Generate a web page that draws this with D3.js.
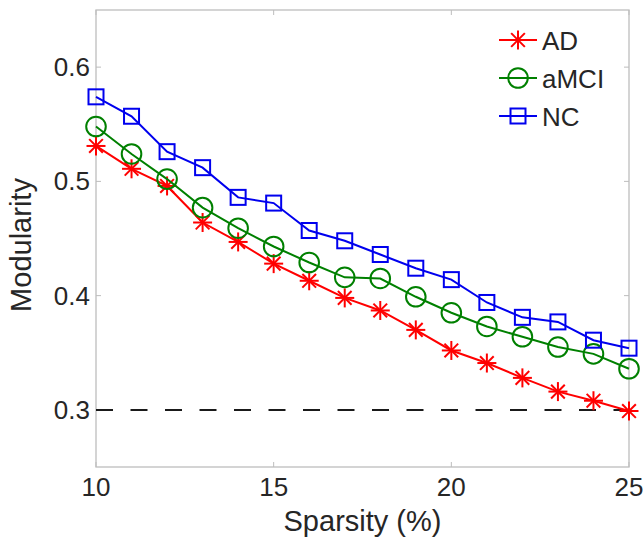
<!DOCTYPE html>
<html><head><meta charset="utf-8">
<script src="https://cdn.jsdelivr.net/npm/d3@7/dist/d3.min.js"></script>
<style>
body{margin:0;background:#fff}
svg{display:block}
text{font-family:"Liberation Sans",Arial,Helvetica,sans-serif;fill:#262626}
</style></head><body>
<script>
const sparsity=[10,11,12,13,14,15,16,17,18,19,20,21,22,23,24,25];
const adValues=[0.531,0.511,0.496,0.464,0.447,0.428,0.413,0.398,0.387,0.370,0.352,0.341,0.328,0.316,0.308,0.299];
const amciValues=[0.548,0.524,0.502,0.477,0.459,0.443,0.429,0.416,0.415,0.399,0.385,0.373,0.364,0.355,0.349,0.336];
const ncValues=[0.574,0.557,0.526,0.512,0.486,0.481,0.457,0.448,0.436,0.424,0.414,0.394,0.381,0.377,0.361,0.354];
const seriesNames=["AD","aMCI","NC"];
const xTicks=[10,15,20,25];
const yTicks=[0.3,0.4,0.5,0.6];
const refValue=0.3;
const xLabel="Sparsity (%)";
const yLabel="Modularity";

const W=644,H=538;
const L=96,R=629,T=10,B=467;
const svg=d3.select("body").append("svg").attr("width",W).attr("height",H);
const x=d3.scaleLinear().domain([10,25]).range([L,R]);
const y=d3.scaleLinear().domain([0.25,0.65]).range([B,T]);

const series=[
 {name:seriesNames[0],values:adValues,color:"#ff0000",marker:"star"},
 {name:seriesNames[1],values:amciValues,color:"#008000",marker:"circle"},
 {name:seriesNames[2],values:ncValues,color:"#0000ee",marker:"square"}
];

// axes box
const axisColor="#bdbdbd";
svg.append("rect").attr("x",L).attr("y",T).attr("width",R-L).attr("height",B-T)
 .attr("fill","none").attr("stroke",axisColor).attr("stroke-width",1.3);

// inward ticks
const tl=5;
xTicks.forEach(t=>{
 svg.append("line").attr("x1",x(t)).attr("x2",x(t)).attr("y1",B).attr("y2",B-tl).attr("stroke",axisColor).attr("stroke-width",1);
 svg.append("line").attr("x1",x(t)).attr("x2",x(t)).attr("y1",T).attr("y2",T+tl).attr("stroke",axisColor).attr("stroke-width",1);
 svg.append("text").attr("x",x(t)).attr("y",496).attr("text-anchor","middle").attr("font-size",26).text(d3.format("d")(t));
});
yTicks.forEach(t=>{
 svg.append("line").attr("x1",L).attr("x2",L+tl).attr("y1",y(t)).attr("y2",y(t)).attr("stroke",axisColor).attr("stroke-width",1);
 svg.append("line").attr("x1",R).attr("x2",R-tl).attr("y1",y(t)).attr("y2",y(t)).attr("stroke",axisColor).attr("stroke-width",1);
 svg.append("text").attr("x",L-6).attr("y",y(t)+9).attr("text-anchor","end").attr("font-size",26).text(d3.format(".1f")(t));
});

// axis labels
svg.append("text").attr("x",(L+R)/2).attr("y",531).attr("text-anchor","middle").attr("font-size",29).text(xLabel);
svg.append("text").attr("transform","translate(31,245) rotate(-90)").attr("text-anchor","middle").attr("font-size",29).text(yLabel);

// reference dashed line
svg.append("line").attr("x1",x(10)).attr("x2",x(25)).attr("y1",y(refValue)).attr("y2",y(refValue))
 .attr("stroke","#1a1a1a").attr("stroke-width",2).attr("stroke-dasharray","17,17.5");

function drawMarker(g,type,cx,cy,color){
 if(type==="star"){
  const r=9.5, d=r*0.72;
  const segs=[[-r,0,r,0],[0,-r,0,r],[-d,-d,d,d],[-d,d,d,-d]];
  segs.forEach(s=>g.append("line").attr("x1",cx+s[0]).attr("y1",cy+s[1]).attr("x2",cx+s[2]).attr("y2",cy+s[3])
   .attr("stroke",color).attr("stroke-width",2));
 } else if(type==="circle"){
  g.append("circle").attr("cx",cx).attr("cy",cy).attr("r",9.8).attr("fill","none").attr("stroke",color).attr("stroke-width",2);
 } else {
  const s=15;
  g.append("rect").attr("x",cx-s/2).attr("y",cy-s/2).attr("width",s).attr("height",s).attr("fill","none").attr("stroke",color).attr("stroke-width",2);
 }
}

const line=d3.line().x((d,i)=>x(sparsity[i])).y(d=>y(d));
series.forEach(s=>{
 const g=svg.append("g");
 g.append("path").attr("d",line(s.values)).attr("fill","none").attr("stroke",s.color).attr("stroke-width",2);
 s.values.forEach((v,i)=>drawMarker(g,s.marker,x(sparsity[i]),y(v),s.color));
});

// legend
const legY=[40,78,116];
series.forEach((s,i)=>{
 const g=svg.append("g");
 g.append("line").attr("x1",499).attr("x2",537).attr("y1",legY[i]).attr("y2",legY[i]).attr("stroke",s.color).attr("stroke-width",2);
 drawMarker(g,s.marker,518,legY[i],s.color);
 g.append("text").attr("x",542).attr("y",legY[i]+9.5).attr("font-size",26).text(s.name);
});
</script>
</body></html>
